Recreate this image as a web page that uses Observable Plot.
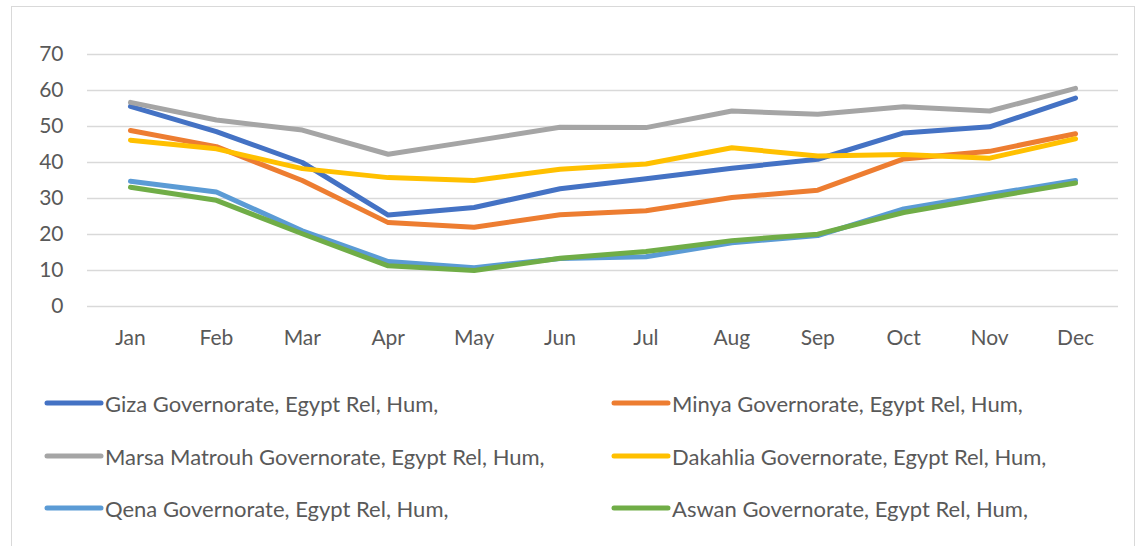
<!DOCTYPE html>
<html>
<head>
<meta charset="utf-8">
<script src="https://cdn.jsdelivr.net/npm/d3@7"></script>
<script src="https://cdn.jsdelivr.net/npm/@observablehq/plot@0.6"></script>
<style>
  html, body { margin: 0; padding: 0; background: #fff; }
  body { width: 1141px; height: 546px; position: relative; overflow: hidden; font-family: Lato, "Open Sans", sans-serif; }
  #frame { position: absolute; left: 11px; top: 6px; width: 1124px; height: 560px; border: 1px solid #d9d9d9; box-sizing: border-box; }
  #chart { position: absolute; left: 0; top: 0; }
  .leg { position: absolute; display: flex; align-items: center; font-size: 22px; color: #595959; white-space: nowrap; }
  .leg svg { display: block; margin-right: 1px; }
</style>
</head>
<body>
<div id="frame"></div>
<div id="chart"></div>
<div id="legend"></div>
<script>
const months = ["Jan","Feb","Mar","Apr","May","Jun","Jul","Aug","Sep","Oct","Nov","Dec"];
const seriesNames = [
  "Giza Governorate, Egypt Rel, Hum,",
  "Minya Governorate, Egypt Rel, Hum,",
  "Marsa Matrouh Governorate, Egypt Rel, Hum,",
  "Dakahlia Governorate, Egypt Rel, Hum,",
  "Qena Governorate, Egypt Rel, Hum,",
  "Aswan Governorate, Egypt Rel, Hum,"
];
const colors = ["#4472C4", "#ED7D31", "#A5A5A5", "#FFC000", "#5B9BD5", "#70AD47"];
const giza     = [55.6, 48.6, 40.0, 25.4, 27.5, 32.7, 35.5, 38.4, 40.9, 48.2, 49.9, 57.9];
const minya    = [48.9, 44.4, 35.0, 23.3, 22.0, 25.5, 26.6, 30.3, 32.3, 41.0, 43.1, 48.0];
const matrouh  = [56.7, 51.8, 49.0, 42.3, 46.0, 49.8, 49.7, 54.3, 53.4, 55.5, 54.3, 60.6];
const dakahlia = [46.2, 43.8, 38.3, 35.8, 35.0, 38.1, 39.6, 44.1, 41.8, 42.2, 41.2, 46.6];
const qena     = [34.8, 31.8, 21.0, 12.5, 10.8, 13.3, 13.8, 17.7, 19.7, 27.1, 31.1, 35.0];
const aswan    = [33.1, 29.5, 20.2, 11.3, 10.0, 13.4, 15.3, 18.3, 20.1, 26.1, 30.3, 34.3];
const yTicks = [0, 10, 20, 30, 40, 50, 60, 70];

const allSeries = [giza, minya, matrouh, dakahlia, qena, aswan];
const data = [];
allSeries.forEach((vals, i) => vals.forEach((v, j) => data.push({series: seriesNames[i], month: months[j], value: v})));

const chart = Plot.plot({
  width: 1141,
  height: 360,
  marginLeft: 87,
  marginRight: 23,
  marginTop: 54,
  marginBottom: 54,
  style: { fontFamily: "Lato, 'Open Sans', sans-serif", fontSize: "21px", color: "#595959", background: "transparent", overflow: "visible" },
  x: { type: "point", domain: months, padding: 0.5, round: false, label: null },
  y: { domain: [0, 70], ticks: yTicks, label: null },
  color: { domain: seriesNames, range: colors },
  marks: [
    Plot.gridY(yTicks, { stroke: "#d9d9d9", strokeOpacity: 1, strokeWidth: 1.3 }),
    Plot.axisY(yTicks, { tickSize: 0, tickPadding: 24, fill: "#595959", fontSize: 21 }),
    Plot.axisX(months, { tickSize: 0, tickPadding: 24, fill: "#595959", fontSize: 21 }),
    Plot.line(data, { x: "month", y: "value", z: "series", stroke: "series", strokeWidth: 5, strokeLinejoin: "round", strokeLinecap: "round" })
  ]
});
document.getElementById("chart").appendChild(chart);

// legend
const legend = document.getElementById("legend");
const pos = [
  {x: 44, y: 403}, {x: 611, y: 403},
  {x: 44, y: 456}, {x: 611, y: 456},
  {x: 44, y: 508}, {x: 611, y: 508}
];
seriesNames.forEach((name, i) => {
  const div = document.createElement("div");
  div.className = "leg";
  div.style.left = pos[i].x + "px";
  div.style.top = (pos[i].y - 15) + "px";
  div.style.height = "30px";
  div.innerHTML = `<svg width="60" height="8"><line x1="3" y1="4" x2="57" y2="4" stroke="${colors[i]}" stroke-width="5" stroke-linecap="round"/></svg><span>${name}</span>`;
  legend.appendChild(div);
});
</script>
</body>
</html>
